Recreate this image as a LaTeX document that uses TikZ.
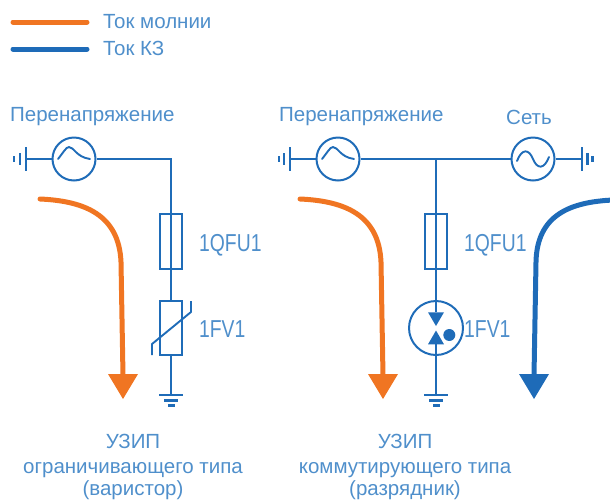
\documentclass[tikz,border=0pt]{standalone}
\usepackage{fontspec}
\setmainfont{Liberation Sans}
\definecolor{ln}{HTML}{1F6CB8}
\definecolor{txt}{HTML}{4F8FCB}
\definecolor{org}{HTML}{F07522}
\definecolor{blu}{HTML}{1E6BB8}
\tikzset{
  wire/.style={draw=ln,line width=1.9pt},
  curve/.style={draw=ln,line width=1.9pt,line cap=round,line join=round},
  src/.style={circle,draw=ln,line width=2pt,minimum size=43pt,inner sep=0pt,fill=white},
  box/.style={rectangle,draw=ln,line width=2pt,minimum width=21.5pt,minimum height=55pt,inner sep=0pt},
  varbox/.style={rectangle,draw=ln,line width=2pt,minimum width=22pt,minimum height=54pt,inner sep=0pt},
  lab/.style={text=txt,font=\fontsize{20.5}{24}\selectfont,inner sep=0pt,anchor=base west},
  capt/.style={text=txt,font=\fontsize{20.5}{24}\selectfont,inner sep=0pt,anchor=base},
  tag/.style={text=txt,font=\fontsize{24.5}{26}\selectfont,inner sep=0pt,anchor=base west,xscale=.79},
  curO/.style={draw=org,line width=5pt,line cap=round},
  curB/.style={draw=blu,line width=5pt,line cap=round},
  gnd/.style={draw=ln,line width=2.2pt},
}
\begin{document}
\begin{tikzpicture}[x=1pt,y=-1pt]
\useasboundingbox (0,0) rectangle (610,499);
% legend
\coordinate (l1a) at (13,22); \coordinate (l1b) at (87,22);
\coordinate (l2a) at (13,49); \coordinate (l2b) at (87,49);
\draw[curO] (l1a) -- (l1b);
\draw[curB] (l2a) -- (l2b);
\node[lab] (t1) at (103,28) {Ток молнии};
\node[lab] (t2) at (103,55.5) {Ток КЗ};
% left circuit
\node[lab] (t3) at (10,121.5) {Перенапряжение};
\node[src] (s1) at (74,159) {};
\draw[curve] (58,159) .. controls (63,153) and (66,147) .. (69,147) .. controls (74,147) and (76,157) .. (90,159);
\coordinate (g1) at (26,159);
\draw[wire] (g1) -- (s1);
\draw[gnd] (26,147) -- (26,171) (20,153) -- (20,165) (14,156) -- (14,162);
\coordinate (c1) at (171,159);
\node[box] (f1) at (171,241.5) {};
\node[varbox] (v1) at (171,328) {};
\coordinate (e1) at (171,395);
\draw[wire] (s1) -- (c1) -- (f1.north) -- (f1.south) -- (v1.north);
\draw[wire] (v1.south) -- (e1);
\draw[gnd] (159,395) -- (183,395) (164,400.5) -- (178,400.5) (168,405.5) -- (175,405.5);
\draw[wire,line join=round] (152,355) -- (152,344) -- (191,312) -- (191,301);
\node[tag] (q1) at (199,251) {1QFU1};
\node[tag] (fv1) at (199,337) {1FV1};
\coordinate (a1) at (40,199); \coordinate (a2) at (123,376);
\draw[curO] (a1) .. controls (85,201) and (119,215) .. (121,262) -- (a2);
\fill[org] (108,374) -- (138,374) -- (123,399) -- cycle;
\node[capt] (c11) at (133,448.5) {УЗИП};
\node[capt] (c12) at (133,473) {ограничивающего типа};
\node[capt] (c13) at (133,495) {(варистор)};
% right circuit
\node[lab] (t4) at (279,121.5) {Перенапряжение};
\node[lab] (t5) at (506,124.5) {Сеть};
\node[src] (s2) at (338,159) {};
\draw[curve] (322,159) .. controls (327,153) and (330,147) .. (333,147) .. controls (338,147) and (340,157) .. (354,159);
\node[src] (s3) at (533,159) {};
\draw[curve] (517,161) .. controls (522,148) and (529,149) .. (533,159) .. controls (537,169) and (544,170) .. (549,157);
\coordinate (g2) at (290,159); \coordinate (g3) at (582,159);
\coordinate (j) at (436,159);
\draw[wire] (g2) -- (s2) -- (j) -- (s3) -- (g3);
\draw[gnd] (290,147) -- (290,171) (284,153) -- (284,165) (279,156) -- (279,162);
\draw[gnd] (582,147) -- (582,171) (587.5,153) -- (587.5,165) (592.5,156) -- (592.5,162);
\node[box] (f2) at (436,241.5) {};
\node[circle,draw=ln,line width=2pt,minimum size=54pt,inner sep=0pt] (v2) at (436,328) {};
\coordinate (e2) at (436,395);
\draw[wire] (j) -- (f2.north) -- (f2.south) -- (436,312);
\draw[wire] (436,344) -- (e2);
\fill[ln] (428,312.3) -- (444,312.3) -- (436,326) -- cycle;
\fill[ln] (428,344.3) -- (444,344.3) -- (436,330.5) -- cycle;
\fill[ln] (449.3,335) circle[radius=6];
\draw[gnd] (424,395) -- (448,395) (429,400.5) -- (443,400.5) (433,405.5) -- (440,405.5);
\node[tag] (q2) at (464,251) {1QFU1};
\node[tag] (fv2) at (464,337) {1FV1};
\coordinate (b1) at (300,199); \coordinate (b2) at (383,376);
\draw[curO] (b1) .. controls (345,201) and (379,215) .. (381,262) -- (b2);
\fill[org] (368,374) -- (398,374) -- (383,399) -- cycle;
\coordinate (d1) at (613,200); \coordinate (d2) at (534,376);
\draw[curB] (d1) .. controls (570,202) and (537,215) .. (536,262) -- (d2);
\fill[blu] (519,374) -- (549,374) -- (534,399) -- cycle;
\node[capt] (c21) at (405,448.5) {УЗИП};
\node[capt] (c22) at (405,473) {коммутирующего типа};
\node[capt] (c23) at (405,495) {(разрядник)};
\end{tikzpicture}
\end{document}
